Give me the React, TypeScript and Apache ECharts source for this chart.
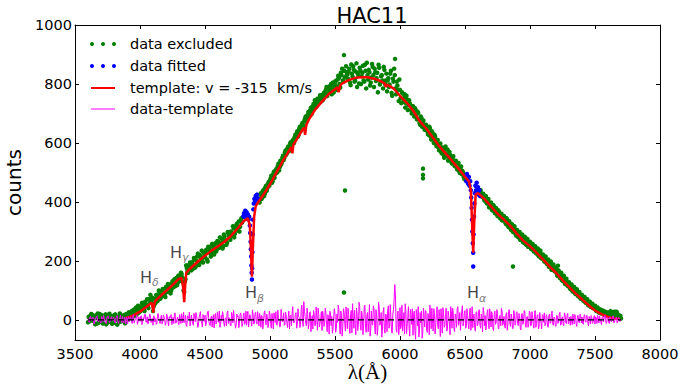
import { useEffect, useRef } from "react";
import * as echarts from "echarts";

const TITLE = "HAC11";
const X_TICKS = [3500, 4000, 4500, 5000, 5500, 6000, 6500, 7000, 7500, 8000];
const Y_TICKS = [0, 200, 400, 600, 800, 1000];
const LEGEND_LABELS = ["data excluded", "data fitted", "template: v = -315  km/s", "data-template"];

// spectrum sampling grids (Å): A at 3600+10i, B at 3605+10i
const WAVE_START_A = 3600;
const WAVE_START_B = 3605;
const WAVE_STEP = 10;

// green points: "data excluded" (null inside the fitted windows)
const DATA_EXCLUDED_A: (number | null)[] = [
  -8, 12, 5, 18, -3, 9, 15, -12, 4, 20,
  2, -6, 11, 7, -15, 16, 3, -4, 13, 8,
  -10, 19, 1, 6, -7, 14, 10, -2, 17, 5,
  14, 3, 22, 18, 31, 12, 27, 42, 30, 24,
  45, 38, 55, 36, 62, 50, 47, 71, 85, 60,
  30, 72, 58, 80, 69, 91, 75, 98, 84, 88,
  112, 95, 118, 104, 99, 131, 120, 114, 142, 125,
  150, 133, 156, 128, 95, 138, 176, 160, 188, 170,
  196, 174, 205, 183, 215, 192, 220, 199, 207, 228,
  214, 238, 198, 243, 226, 251, 230, 222, 260, 238,
  266, 245, 258, 275, 250, 284, 271, 262, 293, 278,
  300, 286, 311, 292, 320, 303, 334, 316, 345, null,
  null, null, null, null, null, null, null, null, null, null,
  null, 412, 398, 430, 415, 441, 428, 455, 447, 468,
  472, 489, 470, 503, 495, 512, 521, 507, 540, 533,
  557, 549, 575, 566, 588, 580, 603, 594, 612, 620,
  618, 640, 628, 655, 647, 668, 659, 683, 672, 695,
  690, 712, 698, 725, 717, 738, 726, 745, 752, 740,
  763, 750, 772, 781, 759, 790, 776, 800, 785, 771,
  805, 792, 815, 820, 788, 830, 812, 845, 825, 840,
  818, 852, 796, 835, 860, 808, 842, 790, 828, 855,
  800, 838, 812, 865, 785, 830, 848, 795, 822, 858,
  790, 840, 820, 772, 855, 805, 830, 785, 848, 812,
  775, 820, 798, 845, 760, 808, 830, 765, 795, 742,
  780, 735, 768, 752, 720, 760, 712, 745, 728, 700,
  725, 690, 712, 680, 702, 668, 690, 655, 676, 645,
  662, 640, 628, 650, 612, 635, 600, 622, 590, 610,
  575, 598, 565, 582, 550, 588, 562, 540, 570, 548,
  530, 555, 522, 540, 510, 532, 498, 520, 505, 485,
  null, null, null, null, null, null, null, null, null, null,
  null, null, 440, 418, 428, 405, 420, 395, 410, 385,
  398, 372, 388, 362, 378, 352, 368, 345, 360, 338,
  352, 330, 345, 320, 335, 310, 325, 298, 318, 290,
  305, 280, 298, 272, 290, 262, 282, 255, 275, 250,
  265, 240, 258, 232, 250, 225, 242, 215, 235, 208,
  222, 198, 215, 190, 205, 185, 198, 175, 188, 165,
  178, 150, 168, 142, 160, 133, 150, 122, 140, 115,
  128, 105, 120, 96, 112, 88, 104, 80, 95, 72,
  85, 65, 78, 58, 70, 50, 62, 44, 55, 40,
  48, 30, 42, 25, 36, 22, 32, 18, 28, 20,
  25, 14, 30, 18, 22, 28, 12, 24, 16, 8,
  5,
];
const DATA_EXCLUDED_B: (number | null)[] = [
  10, -4, 20, 0, 13, -15, 7, 22, -9, 11,
  16, -12, 4, 19, 6, -8, 21, 0, -13, 14,
  9, 3, -16, 12, 22, -5, 7, 15, -11, 20,
  2, 26, 10, 8, 24, 36, 15, 20, 48, 35,
  30, 58, 42, 30, 52, 70, 40, 58, 66, 75,
  45, 55, 85, 64, 100, 72, 82, 105, 92, 78,
  100, 122, 108, 90, 125, 110, 138, 130, 118, 150,
  138, 160, 145, 100, 130, 185, 165, 178, 195, 168,
  188, 210, 178, 200, 225, 186, 212, 235, 195, 218,
  230, 205, 248, 236, 215, 258, 242, 248, 232, 268,
  255, 280, 262, 242, 290, 268, 255, 298, 284, 272,
  295, 318, 280, 308, 326, 312, 300, 338, 330, null,
  null, null, null, null, null, null, null, null, null, null,
  null, 405, 425, 410, 436, 420, 450, 438, 462, 455,
  480, 465, 495, 482, 508, 500, 530, 518, 526, 550,
  542, 568, 560, 582, 572, 598, 588, 608, 600, 628,
  632, 622, 648, 640, 662, 652, 676, 690, 680, 705,
  702, 720, 708, 732, 745, 722, 750, 738, 762, 755,
  745, 770, 762, 790, 768, 782, 795, 765, 805, 792,
  810, 780, 828, 800, 838, 852, 808, 822, 860, 832,
  842, 805, 866, 825, 848, 812, 870, 836, 802, 845,
  826, 862, 808, 845, 872, 815, 840, 805, 868, 830,
  852, 810, 838, 865, 798, 826, 812, 858, 800, 835,
  812, 790, 835, 770, 818, 852, 785, 808, 780, 815,
  752, 772, 740, 765, 735, 748, 728, 735, 712, 722,
  705, 718, 692, 706, 680, 662, 685, 668, 652, 660,
  648, 630, 655, 622, 640, 615, 628, 608, 600, 585,
  592, 572, 585, 560, 575, 555, 578, 552, 560, 535,
  545, 535, 528, 518, 525, 505, 512, 495, 500, 478,
  null, null, null, null, null, null, null, null, null, null,
  null, null, 430, 425, 412, 418, 398, 405, 382, 392,
  375, 390, 368, 380, 358, 372, 350, 358, 338, 352,
  342, 325, 338, 315, 328, 305, 320, 302, 308, 285,
  295, 288, 272, 285, 265, 278, 258, 268, 248, 262,
  248, 252, 238, 245, 228, 235, 218, 228, 210, 220,
  205, 210, 195, 200, 180, 192, 170, 180, 168, 172,
  158, 165, 148, 152, 135, 145, 128, 135, 120, 125,
  110, 118, 100, 108, 92, 98, 85, 90, 76, 82,
  70, 72, 60, 66, 52, 58, 46, 50, 40, 44,
  35, 38, 30, 32, 26, 30, 22, 24, 20, 22,
  18, 24, 12, 26, 20, 14, 28, 18, 10, 14,
];

// isolated excluded points [wavelength, counts]
const EXCLUDED_OUTLIERS: [number, number][] = [
  [5569, 93], [5577, 439], [5569, 898], [5962, 885],
  [6177, 513], [6177, 492], [6177, 480], [6869, 181], [7215, 184],
];

// blue points: "data fitted" around Hβ and Hα [wavelength, counts]
const DATA_FITTED: [number, number][] = [
  [4795, 352], [4800, 362], [4805, 348], [4810, 370], [4815, 355], [4820, 365],
  [4825, 345], [4830, 358], [4835, 340], [4840, 350], [4845, 320], [4848, 295],
  [4851, 265], [4853, 240], [4855, 215], [4857, 185], [4859, 160], [4861, 137],
  [4863, 175], [4865, 230], [4867, 290], [4869, 340], [4872, 375], [4875, 395],
  [4880, 410], [4885, 398], [4890, 420], [4895, 405], [4900, 425], [4905, 412],
  [6505, 488], [6510, 470], [6515, 495], [6520, 478], [6525, 462], [6530, 485],
  [6535, 455], [6540, 470], [6545, 440], [6548, 415], [6551, 380], [6554, 340],
  [6557, 300], [6560, 260], [6563, 228], [6563, 181], [6566, 290], [6569, 350],
  [6572, 395], [6575, 430], [6580, 455], [6585, 440], [6590, 465], [6595, 430],
  [6600, 450], [6605, 425], [6610, 440], [6615, 420],
];

// red template
const TEMPLATE_WAVE = [
  3890, 3920, 3960, 4000, 4050, 4090, 4098, 4102, 4106, 4115, 4150,
  4200, 4250, 4300, 4320, 4332, 4340, 4348, 4356, 4380, 4450, 4500, 4550, 4600, 4650,
  4700, 4750, 4800, 4830, 4845, 4855, 4861, 4867, 4878, 4890, 4910, 4950, 5000, 5050,
  5100, 5150, 5165, 5172, 5180, 5200, 5250, 5262, 5270, 5280, 5300, 5350, 5400, 5450,
  5500, 5520, 5528, 5540, 5550, 5600, 5650, 5700, 5750, 5800, 5850, 5880, 5890, 5900,
  5950, 6000, 6050, 6100, 6150, 6200, 6250, 6300, 6350, 6400, 6450, 6500, 6530, 6545,
  6555, 6563, 6571, 6582, 6600, 6650, 6700, 6750, 6800, 6850, 6900, 6950, 7000, 7050,
  7100, 7150, 7200, 7250, 7300, 7350, 7400, 7450, 7500, 7550, 7600, 7650, 7690,
];
const TEMPLATE_FLUX = [
  7, 10, 18, 28, 45, 58, 40, 25, 42, 63, 78,
  98, 118, 140, 142, 110, 60, 120, 160, 172, 200, 218, 235, 250, 265,
  285, 310, 336, 345, 320, 220, 147, 230, 350, 385, 400, 425, 460, 500,
  540, 576, 586, 565, 595, 608, 645, 652, 628, 662, 680, 715, 740, 765,
  782, 789, 772, 795, 800, 812, 820, 823, 823, 818, 810, 803, 790, 798,
  785, 760, 737, 710, 675, 650, 620, 590, 565, 540, 513, 485, 470, 440,
  320, 228, 330, 425, 430, 410, 385, 360, 340, 318, 292, 268, 250, 228,
  205, 182, 160, 135, 112, 90, 70, 50, 32, 20, 10, 5, 3,
];

// magenta residual data-template on grids A and B
const RESIDUAL_A = [
  5, -8, 12, -3, 9, -12, 4, 14, -6, 2,
  -10, 7, 15, -4, -13, 8, 3, -7, 11, -2,
  6, -11, 13, -5, 2, 16, -9, -3, 10, -14,
  4, 12, -7, 9, -12, 18, -2, 6, -15, 11,
  -5, 14, -9, 3, 20, -8, -13, 7, 15, -4,
  -18, 10, 5, -11, 22, -6, 8, -14, 17, 1,
  -9, 13, -20, 6, 18, -3, -12, 24, -7, 10,
  -16, 4, 21, -10, -5, 15, -22, 9, 27, -8,
  3, -18, 12, 25, -6, -14, 19, -3, -24, 8,
  16, -11, 28, -5, -19, 13, 6, -27, 22, -8,
  10, 30, -15, -4, 18, -22, 7, 25, -12, 3,
  -20, 15, 32, -9, -16, 11, -26, 20, 4, -13,
  24, -7, -18, 29, -3, 10, -21, 17, -10, 26,
  -14, 5, 22, -25, 12, -6, 31, -17, 8, -11,
  19, -28, 6, 24, -9, -15, 33, -4, -22, 14,
  2, -18, 27, -11, 9, -30, 16, 21, -7, -2,
  25, -16, 11, -26, 35, -8, 62, 12, -20, 18,
  -13, 28, -5, -31, 20, -18, 7, 40, -24, 3,
  -36, 15, -12, 26, -40, 8, 30, -19, -45, 12,
  22, -30, -8, 35, -48, 14, -22, 27, -38, 5,
  40, -25, 18, -44, 10, 32, -50, 20, -15, 45,
  -35, 12, -20, 50, -42, 25, -8, -55, 30, -18,
  38, -48, 15, -26, 44, -10, -58, 28, -32, 20,
  -40, 48, -22, 10, -45, 35, 120, -30, 18, -50,
  42, -20, -38, 25, 55, -46, 12, -28, 36, -15,
  -52, 30, -66, 18, 45, -34, -10, -62, 40, -24,
  28, -42, 15, 50, -30, -12, 38, -48, 22, -20,
  35, -56, 10, 42, -25, 18, -38, 30, -14, 45,
  -28, 22, -40, 12, 38, -18, 25, -35, 48, -8,
  32, -22, 15, -30, 40, -12, -26, 20, -38, 28,
  -15, 35, -28, 10, 42, -20, -34, 25, -10, 38,
  -24, 18, -36, 30, -8, 22, -30, 15, 40, -18,
  12, -28, 25, -15, 35, -22, 8, -30, 20, -12,
  28, -20, 15, -34, 22, -8, 30, -25, 12, -16,
  25, -18, 10, -28, 32, -12, 18, -22, 8, -30,
  15, 24, -16, 12, -25, 20, -10, 30, -18, 5,
  -22, 14, -8, 26, -15, 10, -20, 18, -12, 22,
  -6, -18, 12, 20, -14, 8, -22, 16, -9, 14,
  10, -15, 18, -8, 12, -20, 6, 15, -12, 9,
  -14, 8, 16, -10, 4, -16, 12, -6, 14, -10,
  6, -12, 10, -4, 14, -8, 3, -10, 8, -5,
  2,
];
const RESIDUAL_B = [
  -6, 10, -2, 8, -14, 6, 11, -4, 3, -9,
  12, -5, 4, -11, 9, 14, -8, 5, -3, 10,
  -7, 4, 15, -12, 8, -4, 12, -10, 5, 9,
  -13, 7, 10, -4, 14, -10, 3, 17, -8, 6,
  12, -16, 8, 18, -6, 11, -12, 20, -9, 5,
  14, -7, -15, 19, 4, -12, 16, -5, 10, -18,
  20, -6, 11, 15, -16, 9, 22, -11, 4, -14,
  18, -12, 8, 26, -9, -18, 14, 5, -20, 16,
  -10, 22, -6, 15, -25, 10, 28, -12, 18, -5,
  -20, 12, 30, -16, 7, -24, 18, 9, -14, 26,
  -8, -25, 16, 28, -12, 5, -20, 30, 8, -18,
  26, -10, 8, -28, 20, 14, -12, 24, -22, 16,
  -15, 30, 12, -24, 18, -6, 34, -14, 22, -9,
  28, -20, 10, 15, -30, 25, -8, 20, -26, 30,
  -12, 22, -30, 16, 28, -18, 9, -24, 36, -6,
  24, -15, 10, -26, 30, 12, -20, 45, -10, 18,
  -28, 38, 8, -15, 50, -22, 30, -12, 40, -30,
  25, -40, 15, 32, -20, 44, -35, 18, -10, 28,
  30, -22, 40, -15, 18, -48, 25, 12, -30, 38,
  -42, 20, 50, -20, 30, -55, 38, -12, 44, -30,
  18, -46, 32, 55, -28, -12, 40, -36, 60, -20,
  30, -50, 45, -25, 15, -40, 52, -30, -12, 48,
  -20, 35, -52, 60, -18, 25, -35, 42, -45, 15,
  30, -28, 52, -38, 20, 70, 85, -42, 30, -25,
  -30, 50, -12, -48, 30, -22, 45, -55, 20, 38,
  20, -40, 35, -20, -58, 25, 30, -45, 15, 32,
  -35, 22, -50, 18, 40, -38, 25, -15, 45, -30,
  12, 38, -45, 25, -20, 40, -30, 15, -50, 28,
  40, -30, 20, -25, 45, -8, -35, 30, -20, 22,
  -28, 38, -15, 25, -35, 45, 15, -30, 25, -20,
  30, -18, 20, -40, 25, 15, -22, 35, -30, 18,
  28, -30, 20, -15, 35, -25, 12, -20, 30, -10,
  -22, 18, -35, 28, -12, 20, -28, 32, -18, 25,
  -12, 22, -28, 18, -15, 32, -20, 10, -25, 30,
  -20, 28, -15, 22, -25, 15, -30, 25, -12, 18,
  -8, -20, 18, -22, 15, -12, 22, -15, 10, -20,
  16, -12, 20, -18, 8, -16, 24, -10, 15, -14,
  10, 12, -16, 8, 18, -12, 14, -8, 20, -10,
  -12, 14, -6, 16, -10, 12, -14, 8, -8, 15,
  10, -12, 6, 14, -8, 10, -6, 16, -12, 8,
  -8, 10, -6, 12, -10, 4, 9, -7, 5, -4,
];

// Balmer line labels: subscript, wavelength and counts where the "H" sits
const LINE_SUBS = ["δ", "γ", "β", "α"];
const LINE_LABEL_WAVE = [4000, 4231, 4808, 6515];
const LINE_LABEL_Y = [144, 230, 93, 93];

const Y_MIN = -68;
const Y_MAX = 1000;

export default function App() {
  const ref = useRef<HTMLDivElement>(null);
  useEffect(() => {
    if (!ref.current) return;
    const chart = echarts.init(ref.current, null, { renderer: "svg" });
    const gridA = (i: number) => WAVE_START_A + i * WAVE_STEP;
    const gridB = (i: number) => WAVE_START_B + i * WAVE_STEP;
    const excluded: [number, number][] = [];
    DATA_EXCLUDED_A.forEach((v, i) => {
      if (v !== null) excluded.push([gridA(i), v]);
    });
    DATA_EXCLUDED_B.forEach((v, i) => {
      if (v !== null) excluded.push([gridB(i), v]);
    });
    EXCLUDED_OUTLIERS.forEach((p) => excluded.push(p));
    const template = TEMPLATE_WAVE.map((w, i) => [w, TEMPLATE_FLUX[i]]);
    const residual: [number, number][] = [];
    RESIDUAL_A.forEach((v, i) => residual.push([gridA(i), v]));
    RESIDUAL_B.forEach((v, i) => residual.push([gridB(i), v]));
    residual.sort((a, b) => a[0] - b[0]);
    const firstWave = residual[0][0];
    const lastWave = residual[residual.length - 1][0];
    const labels = LINE_SUBS.map((s, i) => ({ value: [LINE_LABEL_WAVE[i], LINE_LABEL_Y[i]], sub: s }));
    const font = "DejaVu Sans";
    const axisCommon = {
      axisLine: { show: true, onZero: false, lineStyle: { color: "#000", width: 1 } },
      splitLine: { show: false },
    };
    const fmt = (v: number) => String(v);
    const legendRowY = [44, 66, 88, 109];
    const legendGraphics: any[] = [];
    [92, 103, 114].forEach((x) => {
      legendGraphics.push({ type: "circle", shape: { cx: x, cy: legendRowY[0], r: 2 }, style: { fill: "#008000" } });
      legendGraphics.push({ type: "circle", shape: { cx: x, cy: legendRowY[1], r: 2 }, style: { fill: "#0000ff" } });
    });
    legendGraphics.push({ type: "line", shape: { x1: 91, y1: legendRowY[2], x2: 115, y2: legendRowY[2] }, style: { stroke: "#ff0000", lineWidth: 2 } });
    legendGraphics.push({ type: "line", shape: { x1: 91, y1: legendRowY[3], x2: 115, y2: legendRowY[3] }, style: { stroke: "#ff00ff", lineWidth: 1 } });
    LEGEND_LABELS.forEach((t, i) => {
      legendGraphics.push({
        type: "text",
        x: 130,
        y: legendRowY[i],
        style: { text: t, fill: "#000", font: `14.5px '${font}'`, textVerticalAlign: "middle", textAlign: "left" },
      });
    });

    chart.setOption({
      animation: false,
      backgroundColor: "#fff",
      title: {
        text: TITLE,
        left: 367,
        textAlign: "center",
        top: 0,
        textStyle: { fontFamily: font, fontSize: 21, fontWeight: "normal", color: "#000" },
      },
      grid: { left: 75, right: 32, top: 25, bottom: 47, containLabel: false, outerBoundsMode: "none" },
      xAxis: [
        {
          type: "value",
          min: X_TICKS[0],
          max: X_TICKS[X_TICKS.length - 1],
          interval: 500,
          ...axisCommon,
          axisTick: { show: true, inside: true, length: 4, lineStyle: { color: "#000" } },
          axisLabel: { color: "#000", fontFamily: font, fontSize: 14.5, margin: 6, formatter: fmt },
          name: "λ(Å)",
          nameLocation: "middle",
          nameGap: 20,
          nameMoveOverlap: false,
          nameTextStyle: { fontFamily: "Liberation Serif", fontSize: 21, color: "#000", lineHeight: 24, verticalAlign: "top" },
        },
        {
          type: "value",
          position: "top",
          min: X_TICKS[0],
          max: X_TICKS[X_TICKS.length - 1],
          interval: 500,
          ...axisCommon,
          axisTick: { show: true, inside: true, length: 4, lineStyle: { color: "#000" } },
          axisLabel: { show: false },
        },
      ],
      yAxis: [
        {
          type: "value",
          min: Y_MIN,
          max: Y_MAX,
          ...axisCommon,
          axisTick: { show: true, inside: true, length: 4, customValues: Y_TICKS, lineStyle: { color: "#000" } },
          axisLabel: { color: "#000", fontFamily: font, fontSize: 14.5, margin: 3, customValues: Y_TICKS, formatter: fmt },
          name: "counts",
          nameLocation: "middle",
          nameGap: 45,
          nameTextStyle: { fontFamily: font, fontSize: 20, color: "#000" },
        },
        {
          type: "value",
          position: "right",
          min: Y_MIN,
          max: Y_MAX,
          ...axisCommon,
          axisTick: { show: true, inside: true, length: 4, customValues: Y_TICKS, lineStyle: { color: "#000" } },
          axisLabel: { show: false, customValues: Y_TICKS },
        },
      ],
      series: [
        {
          name: "data excluded",
          type: "scatter",
          data: excluded,
          symbol: "circle",
          symbolSize: 4.5,
          itemStyle: { color: "#008000", opacity: 1 },
          silent: true,
          z: 2,
        },
        {
          name: "data fitted",
          type: "scatter",
          data: DATA_FITTED,
          symbol: "circle",
          symbolSize: 4.5,
          itemStyle: { color: "#0000ff", opacity: 1 },
          silent: true,
          z: 3,
        },
        {
          name: "template",
          type: "line",
          data: template,
          showSymbol: false,
          lineStyle: { color: "#ff0000", width: 2.5 },
          silent: true,
          z: 4,
        },
        {
          name: "data-template",
          type: "line",
          data: residual,
          showSymbol: false,
          lineStyle: { color: "#ff00ff", width: 1 },
          silent: true,
          z: 5,
        },
        {
          name: "zero",
          type: "line",
          data: [[firstWave, 0], [lastWave, 0]],
          showSymbol: false,
          lineStyle: { color: "#000", width: 1.3, type: [6, 4] },
          silent: true,
          z: 6,
        },
        {
          name: "lines",
          type: "scatter",
          data: labels,
          symbolSize: 0,
          silent: true,
          z: 7,
          label: {
            show: true,
            position: "inside",
            align: "left",
            verticalAlign: "middle",
            formatter: (p: any) => `{h|H}{s|${p.data.sub}}`,
            rich: {
              h: { fontFamily: font, fontSize: 16, color: "#111", lineHeight: 22 },
              s: { fontFamily: font, fontStyle: "italic", fontSize: 11, color: "#555", lineHeight: 8, verticalAlign: "bottom" },
            },
          },
        },
      ],
      graphic: legendGraphics,
    });
    return () => chart.dispose();
  }, []);
  return <div ref={ref} style={{ position: "fixed", left: 0, top: 0, width: 692, height: 387 }} />;
}
